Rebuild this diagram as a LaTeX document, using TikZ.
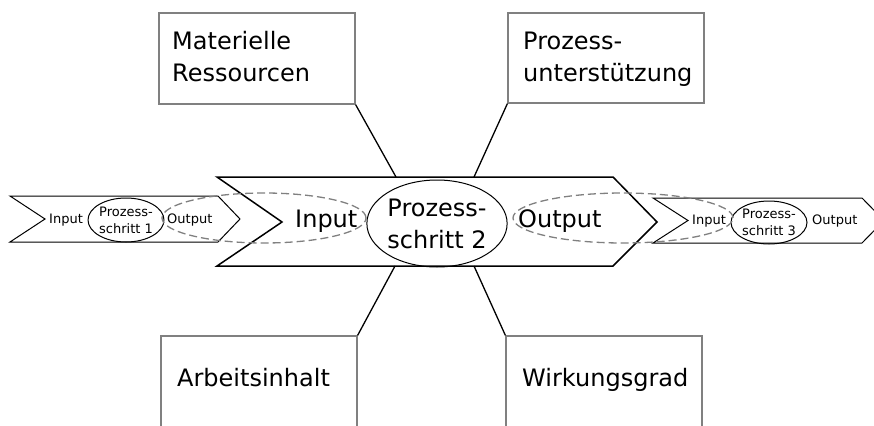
\documentclass[tikz,border=0pt]{standalone}
\usepackage{fontspec}
\setmainfont{DejaVu Sans}
\usetikzlibrary{shapes.geometric}
\begin{document}
\begin{tikzpicture}[x=1pt,y=-1pt,
  box/.style={draw=black!50,line width=1.2pt,rectangle,inner sep=0pt},
  bigtxt/.style={font=\fontsize{24}{32}\selectfont,inner sep=0pt},
  smalltxt/.style={font=\fontsize{13}{17}\selectfont,inner sep=0pt},
  arrowshape/.style={draw=black,line width=1pt,line join=miter},
  bigarrow/.style={draw=black,line width=1.5pt,line join=miter},
  proc/.style={draw=black,line width=1pt,ellipse,inner sep=0pt,align=center},
  dashell/.style={draw=black!50,line width=1.3pt,dash pattern=on 8pt off 4pt,ellipse,inner sep=0pt},
  conn/.style={draw=black,line width=1.3pt}]
\useasboundingbox (0,0) rectangle (874,425);
% process step arrows
\draw[arrowshape] (10,196) -- (218,196) -- (240,219) -- (218,242) -- (10,242) -- (45,219) -- cycle;
\draw[arrowshape] (653,198) -- (862,198) -- (884,220.5) -- (862,243) -- (653,243) -- (688,220.5) -- cycle;
\draw[bigarrow] (217,177) -- (613,177) -- (657,222) -- (613,266) -- (217,266) -- (282,222) -- cycle;
% connector points on the big arrow
\coordinate (t1) at (396,177);
\coordinate (t2) at (474,177);
\coordinate (b1) at (395,266);
\coordinate (b2) at (474,266);
% process ellipses
\node[proc,minimum width=73pt,minimum height=44pt,smalltxt] (p1) at (126,220) {Prozess-\\schritt 1};
\node[proc,minimum width=138pt,minimum height=87pt,bigtxt] (p2) at (437,223.5) {Prozess-\\schritt 2};
\node[proc,minimum width=72pt,minimum height=43pt,smalltxt] (p3) at (769,222.5) {Prozess-\\schritt 3};
% dashed input/output ellipses
\node[dashell,minimum width=204pt,minimum height=50pt] (din) at (264,218) {};
\node[dashell,minimum width=220pt,minimum height=50pt] (dout) at (623,218) {};
% input/output labels
\node[smalltxt,anchor=base west] (in1) at (49,223) {Input};
\node[smalltxt,anchor=base west] (out1) at (167,223) {Output};
\node[bigtxt,anchor=base west] (in2) at (295,227) {Input};
\node[bigtxt,anchor=base west] (out2) at (518,227) {Output};
\node[smalltxt,anchor=base west] (in3) at (692,224.5) {Input};
\node[smalltxt,anchor=base west] (out3) at (812,224.5) {Output};
% boxes
\node[box,minimum width=196pt,minimum height=91pt] (mat) at (257,58.5) {};
\node[box,minimum width=196pt,minimum height=90pt] (pu) at (606,58) {};
\node[box,minimum width=196pt,minimum height=104pt] (ai) at (259,388) {};
\node[box,minimum width=196pt,minimum height=104pt] (wg) at (604,388) {};
\node[bigtxt,anchor=base west,align=left] (matt) at (172,50) {Materielle};
\node[bigtxt,anchor=base west,align=left] (matt2) at (172,82) {Ressourcen};
\node[bigtxt,anchor=base west] (put) at (523,50) {Prozess-};
\node[bigtxt,anchor=base west] (put2) at (523,82) {unterstützung};
\node[bigtxt,anchor=base west] (ait) at (177,386) {Arbeitsinhalt};
\node[bigtxt,anchor=base west] (wgt) at (522,386) {Wirkungsgrad};
% connectors
\draw[conn] (mat.south east) -- (t1);
\draw[conn] (pu.south west) -- (t2);
\draw[conn] (ai.north east) -- (b1);
\draw[conn] (wg.north west) -- (b2);
\end{tikzpicture}
\end{document}
